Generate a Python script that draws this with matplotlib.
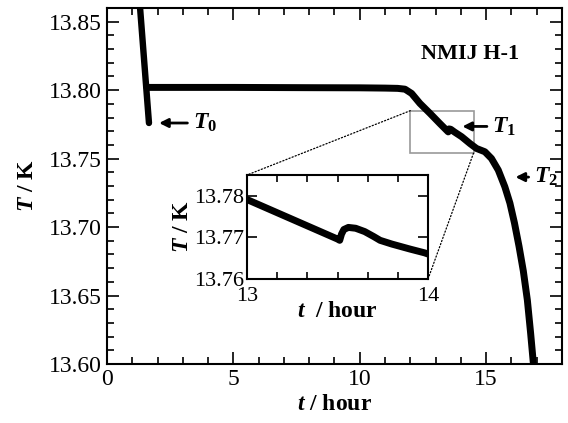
import numpy as np
import matplotlib
matplotlib.use("Agg")
import matplotlib.pyplot as plt
from matplotlib.patches import Rectangle, ConnectionPatch
from matplotlib.ticker import MultipleLocator, FormatStrFormatter

plt.rcParams['font.family'] = 'Liberation Serif'
plt.rcParams['mathtext.fontset'] = 'custom'
plt.rcParams['mathtext.it'] = 'Liberation Serif:italic:bold'
plt.rcParams['mathtext.rm'] = 'Liberation Serif:bold'
plt.rcParams['mathtext.bf'] = 'Liberation Serif:bold'

# first drop (before the plateau)
t_drop = [1.30, 1.48, 1.66]
T_drop = [13.862, 13.819, 13.776]

# melting curve
t_melt = [1.58, 3.0, 5.0, 8.0, 10.0, 11.0, 11.5, 11.79, 12.05, 12.38, 12.78, 13.17,
          13.5, 13.53, 13.6, 13.75, 14.03, 14.36, 14.62, 14.95, 15.21, 15.48, 15.74,
          15.94, 16.12, 16.3, 16.47, 16.63, 16.76, 16.87]
T_melt = [13.802, 13.802, 13.802, 13.8018, 13.8017, 13.8015, 13.8013, 13.8007,
          13.7976, 13.7903, 13.783, 13.7756, 13.7695, 13.7717, 13.7714, 13.7694,
          13.766, 13.761, 13.7574, 13.755, 13.7501, 13.7416, 13.7294, 13.7175,
          13.703, 13.686, 13.668, 13.6467, 13.6224, 13.600]

# inset (zoom) data
t_zoom = [13.0, 13.1, 13.2, 13.3, 13.4, 13.5, 13.512, 13.522, 13.535, 13.56, 13.6,
          13.65, 13.7, 13.735, 13.8, 13.9, 13.98, 14.0]
T_zoom = [13.7791, 13.7772, 13.7753, 13.7734, 13.7715, 13.7696, 13.7693, 13.7708,
          13.7719, 13.7724, 13.7722, 13.7714, 13.7702, 13.7693, 13.7684, 13.7672,
          13.7663, 13.7660]

# box drawn on main plot
box_t = [12.0, 14.5]
box_T = [13.754, 13.785]

fig = plt.figure(figsize=(5.68, 4.23), dpi=100)
ax = fig.add_axes([0.1884, 0.1395, 0.801, 0.8416])

ax.plot(t_drop, T_drop, color='black', lw=4.6, solid_capstyle='round')
ax.plot(t_melt, T_melt, color='black', lw=5.0, solid_capstyle='round', solid_joinstyle='round')

ax.set_xlim(0, 18)
ax.set_ylim(13.60, 13.86)
ax.xaxis.set_major_locator(MultipleLocator(5))
ax.xaxis.set_minor_locator(MultipleLocator(1))
ax.yaxis.set_major_locator(MultipleLocator(0.05))
ax.yaxis.set_minor_locator(MultipleLocator(0.01))
ax.yaxis.set_major_formatter(FormatStrFormatter('%.2f'))
ax.tick_params(which='both', direction='in', top=True, right=True, labelsize=17, width=1.2)
ax.tick_params(which='major', length=8.5)
ax.tick_params(which='minor', length=5)
for s in ax.spines.values():
    s.set_linewidth(1.5)

ax.set_xlabel('$t$ / hour', fontsize=17, fontweight='bold', labelpad=3)
ax.set_ylabel('$T$ / K', fontsize=17, fontweight='bold', labelpad=8)

ax.text(0.905, 0.87, 'NMIJ H-1', transform=ax.transAxes, fontsize=16, fontweight='bold',
        ha='right', va='center')

arrow = dict(arrowstyle='-|>', color='black', lw=2, mutation_scale=13)
ax.annotate('$T_0$', xy=(1.95, 13.776), xytext=(3.4, 13.776), fontsize=17,
            va='center', arrowprops=arrow)
ax.annotate('$T_1$', xy=(13.95, 13.7735), xytext=(15.25, 13.7735), fontsize=17,
            va='center', arrowprops=arrow)
ax.annotate('$T_2$', xy=(16.05, 13.7365), xytext=(16.9, 13.7365), fontsize=17,
            va='center', arrowprops=arrow)

ax.add_patch(Rectangle((box_t[0], box_T[0]), box_t[1] - box_t[0], box_T[1] - box_T[0],
                       fill=False, edgecolor='#999999', lw=1.2))

# inset
axi = fig.add_axes([0.4349, 0.3404, 0.3187, 0.2459])
axi.plot(t_zoom, T_zoom, color='black', lw=5.0, solid_capstyle='round', solid_joinstyle='round')
axi.set_xlim(13, 14)
axi.set_ylim(13.76, 13.785)
axi.xaxis.set_major_locator(MultipleLocator(1))
axi.xaxis.set_minor_locator(MultipleLocator(1 / 6))
axi.yaxis.set_major_locator(MultipleLocator(0.01))
axi.yaxis.set_major_formatter(FormatStrFormatter('%.2f'))
axi.tick_params(which='both', direction='in', top=True, right=True, labelsize=16, width=1.2)
axi.tick_params(which='major', length=7)
axi.tick_params(which='minor', length=5)
axi.tick_params(axis='x', pad=6)
axi.tick_params(axis='y', pad=2)
for s in axi.spines.values():
    s.set_linewidth(1.5)
axi.set_xlabel('$t$  / hour', fontsize=17, fontweight='bold', labelpad=-4)
axi.set_ylabel('$T$ / K', fontsize=17, fontweight='bold', labelpad=1)

# connecting dotted lines
for (xa, ya), (xb, yb) in [((box_t[0], box_T[1]), (0, 1)), ((box_t[1], box_T[0]), (1, 0))]:
    cp = ConnectionPatch(xyA=(xa, ya), coordsA=ax.transData, xyB=(xb, yb),
                         coordsB=axi.transAxes, ls=':', lw=0.9, color='black')
    fig.add_artist(cp)

fig.savefig('out.png', dpi=100)
